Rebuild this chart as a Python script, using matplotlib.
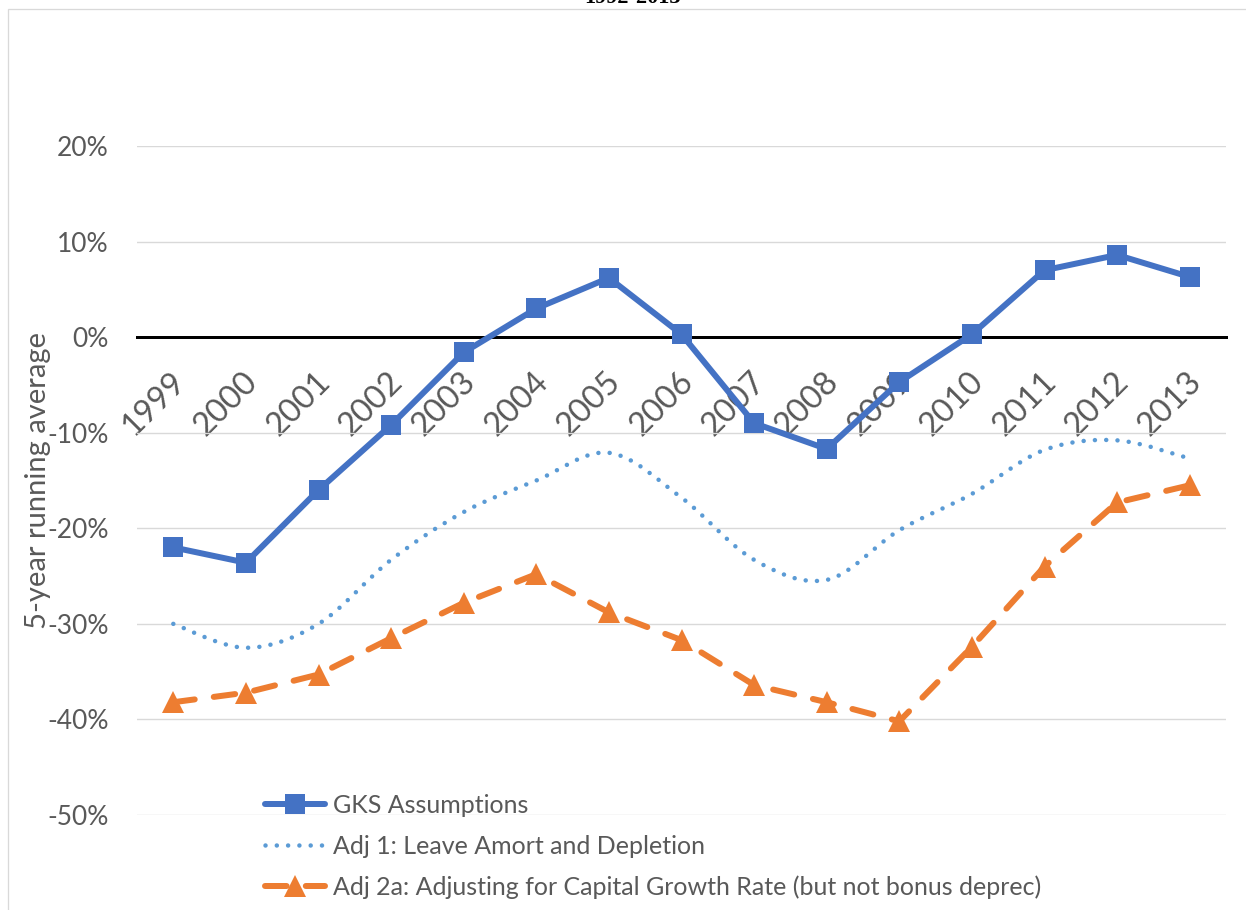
import matplotlib
matplotlib.use("Agg")
import matplotlib.pyplot as plt
from matplotlib.path import Path
from matplotlib.patches import PathPatch, Rectangle
from matplotlib.lines import Line2D
from matplotlib.transforms import ScaledTranslation

# ---------------- data ----------------
years = ["1999", "2000", "2001", "2002", "2003", "2004", "2005", "2006",
         "2007", "2008", "2009", "2010", "2011", "2012", "2013"]
gks = [-0.220, -0.236, -0.160, -0.092, -0.016, 0.030, 0.062, 0.003,
       -0.090, -0.117, -0.047, 0.003, 0.070, 0.086, 0.063]
adj1 = [-0.300, -0.325, -0.300, -0.233, -0.183, -0.150, -0.121, -0.168,
        -0.233, -0.254, -0.202, -0.164, -0.118, -0.108, -0.127]
adj2a = [-0.382, -0.372, -0.353, -0.315, -0.278, -0.248, -0.288, -0.317,
         -0.364, -0.382, -0.402, -0.324, -0.240, -0.173, -0.155]
series_labels = ["GKS Assumptions",
                 "Adj 1: Leave Amort and Depletion",
                 "Adj 2a: Adjusting for Capital Growth Rate (but not bonus deprec)"]
ytick_vals = [0.2, 0.1, 0.0, -0.1, -0.2, -0.3, -0.4, -0.5]
ytick_labels = ["20%", "10%", "0%", "-10%", "-20%", "-30%", "-40%", "-50%"]
y_label = "5-year running average"
title_text = "1992-2013"

# ---------------- style ----------------
W, H = 1246, 910
FONT = "Lato"
TXT = "#595959"
BLUE = "#4472C4"
LBLUE = "#5B9BD5"
ORANGE = "#ED7D31"
GRID = "#D9D9D9"
PX = 72 / 100.0  # points per pixel at dpi 100

plt.rcParams["font.family"] = [FONT, "DejaVu Sans"]

fig = plt.figure(figsize=(W / 100, H / 100), dpi=100)
fig.patch.set_facecolor("white")

# chart frame
fig.patches.append(Rectangle((8 / W, -0.1), 1.2, (H - 9) / H + 0.1,
                             transform=fig.transFigure, fill=False,
                             edgecolor=GRID, lw=1.3 * PX, zorder=0))
# clipped title on top
fig.text(632 / W, (H - 3) / H, title_text, ha="center", va="baseline",
         fontsize=16, fontweight="bold", family="Liberation Serif", color="black")

ax_l, ax_r, ax_t, ax_b = 137, 1226, 146, 815
ax = fig.add_axes([ax_l / W, (H - ax_b) / H, (ax_r - ax_l) / W, (ax_b - ax_t) / H])
ax.set_facecolor("none")

x = list(range(len(years)))
ax.set_xlim(-0.5, len(years) - 0.5)
ax.set_ylim(-0.5, 0.2)

# grid
ax.set_yticks(ytick_vals)
ax.set_yticklabels(ytick_labels)
ax.yaxis.grid(True, color=GRID, lw=1.4 * PX)
ax.set_axisbelow(True)
for s in ["top", "right", "left"]:
    ax.spines[s].set_visible(False)
ax.spines["bottom"].set_position(("data", 0))
ax.spines["bottom"].set_color("black")
ax.spines["bottom"].set_linewidth(3 * PX)
ax.spines["bottom"].set_zorder(1.5)

ax.tick_params(axis="y", length=0, pad=28 * PX, labelsize=19, labelcolor=TXT)
ax.tick_params(axis="x", length=0, pad=40 * PX, labelsize=23.5, labelcolor=TXT)
ax.set_xticks(x)
ax.set_xticklabels(years, rotation=45, ha="right", va="center",
                   rotation_mode="anchor")
shift = ScaledTranslation(7 / 100, 0, fig.dpi_scale_trans)
for lab in ax.get_xticklabels():
    lab.set_transform(lab.get_transform() + shift)

ax.set_ylabel(y_label, fontsize=21, color=TXT)
ax.yaxis.set_label_coords(-(ax_l - 38) / (ax_r - ax_l), 0.5)
ax.yaxis.label.set_va("center")

# GKS
ax.plot(x, gks, color=BLUE, lw=6 * PX, marker="s", markersize=20 * PX,
        markeredgewidth=0, solid_joinstyle="round", solid_capstyle="round",
        zorder=3, label=series_labels[0])

# Adj 1 : smoothed curve (Excel-style Bezier through the points)
verts = [(x[0], adj1[0])]
codes = [Path.MOVETO]
n = len(x)
for i in range(n - 1):
    p_prev = (x[max(i - 1, 0)], adj1[max(i - 1, 0)])
    p0 = (x[i], adj1[i])
    p1 = (x[i + 1], adj1[i + 1])
    p_next = (x[min(i + 2, n - 1)], adj1[min(i + 2, n - 1)])
    c1 = (p0[0] + (p1[0] - p_prev[0]) / 6, p0[1] + (p1[1] - p_prev[1]) / 6)
    c2 = (p1[0] - (p_next[0] - p0[0]) / 6, p1[1] - (p_next[1] - p0[1]) / 6)
    verts += [c1, c2, p1]
    codes += [Path.CURVE4] * 3
dot_ls = (0, (0.01, 2.5))
patch = PathPatch(Path(verts, codes), fill=False, edgecolor=LBLUE,
                  lw=4.5 * PX, linestyle=dot_ls, capstyle="round", zorder=2.5)
ax.add_patch(patch)
h_adj1 = Line2D([], [], color=LBLUE, lw=4.5 * PX, linestyle=dot_ls,
                dash_capstyle="round")

# Adj 2a
dash_ls = (0, (3.6, 3.2))
l3, = ax.plot(x, adj2a, color=ORANGE, lw=6 * PX, linestyle=dash_ls,
              dash_capstyle="round", marker="^", markersize=23 * PX,
              markeredgewidth=0, zorder=2.8)

h_gks = ax.get_lines()[0]
fs_leg = 18
leg = fig.legend([h_gks, h_adj1, l3], series_labels, loc="upper left",
                 bbox_to_anchor=(265 / W, (H - 794) / H), frameon=False,
                 fontsize=fs_leg, labelcolor=TXT, handlelength=2.4,
                 handletextpad=0.32, labelspacing=0.71, borderpad=0,
                 borderaxespad=0)

fig.savefig("out.png", dpi=100, facecolor="white")
